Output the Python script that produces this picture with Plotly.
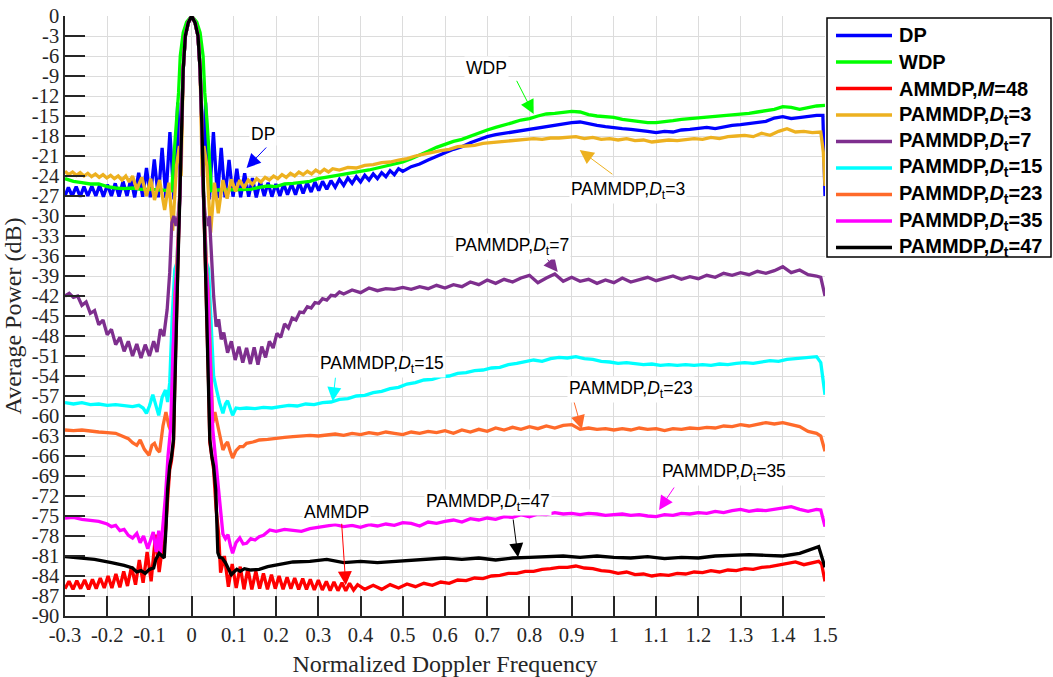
import plotly.graph_objects as go

# ---------------- axis ticks ----------------
X_TICKS = [-0.3, -0.2, -0.1, 0.0, 0.1, 0.2, 0.3, 0.4, 0.5, 0.6, 0.7, 0.8, 0.9, 1.0, 1.1, 1.2, 1.3, 1.4, 1.5]
X_TICK_TEXT = ["-0.3", "-0.2", "-0.1", "0", "0.1", "0.2", "0.3", "0.4", "0.5", "0.6", "0.7", "0.8", "0.9",
               "1", "1.1", "1.2", "1.3", "1.4", "1.5"]
Y_TICKS = [0, -3, -6, -9, -12, -15, -18, -21, -24, -27, -30, -33, -36, -39, -42, -45, -48, -51, -54, -57,
           -60, -63, -66, -69, -72, -75, -78, -81, -84, -87, -90]
Y_TICK_TEXT = ["0", "-3", "-6", "-9", "-12", "-15", "-18", "-21", "-24", "-27", "-30", "-33", "-36", "-39",
               "-42", "-45", "-48", "-51", "-54", "-57", "-60", "-63", "-66", "-69", "-72", "-75", "-78",
               "-81", "-84", "-87", "-90"]

# ---------------- series: (normalized Doppler, average power dB) ----------------
DP = [(-0.300, -27.0), (-0.292, -25.7), (-0.283, -27.0), (-0.2735, -25.6), (-0.264, -27.1), (-0.255, -25.6),
      (-0.246, -27.0), (-0.2365, -25.5), (-0.227, -27.0), (-0.218, -25.4), (-0.209, -27.1), (-0.1995, -25.3),
      (-0.190, -27.0), (-0.181, -25.1), (-0.172, -27.1), (-0.1625, -24.8), (-0.153, -27.0), (-0.144, -24.4),
      (-0.135, -27.2), (-0.1255, -23.5), (-0.116, -27.1), (-0.107, -22.8), (-0.098, -27.2), (-0.0885, -21.5),
      (-0.079, -27.2), (-0.070, -19.8), (-0.061, -27.3), (-0.0515, -17.4), (-0.042, -27.5), (-0.033, -13.0),
      (-0.027, -24.0), (-0.024, -16.0), (-0.020, -8.0), (-0.015, -3.0), (-0.008, -1.0), (0.0, 0.0),
      (0.008, -1.0), (0.015, -3.0), (0.020, -8.0), (0.024, -16.0), (0.027, -24.0), (0.033, -13.0),
      (0.042, -27.5), (0.0515, -17.4), (0.061, -27.3), (0.070, -19.8), (0.079, -27.2), (0.0885, -21.6),
      (0.098, -27.1), (0.107, -22.9), (0.116, -27.2), (0.1255, -23.6), (0.135, -27.1), (0.144, -24.3),
      (0.153, -27.2), (0.1625, -24.8), (0.172, -27.0), (0.181, -25.0), (0.190, -27.1), (0.1995, -25.2),
      (0.209, -27.0), (0.218, -25.2), (0.227, -26.8), (0.2365, -25.2), (0.246, -26.8), (0.255, -25.0),
      (0.264, -26.6), (0.2735, -25.0), (0.283, -26.4), (0.292, -24.9), (0.301, -26.2), (0.310, -24.8),
      (0.320, -26.0), (0.330, -24.7), (0.340, -25.7), (0.350, -24.5), (0.360, -25.4), (0.370, -24.3),
      (0.380, -25.1), (0.390, -24.1), (0.400, -24.9), (0.410, -23.9), (0.420, -24.6), (0.430, -23.7),
      (0.440, -24.4), (0.450, -23.5), (0.460, -24.1), (0.470, -23.2), (0.480, -23.8), (0.490, -22.9),
      (0.500, -23.3), (0.520, -22.6), (0.540, -22.2), (0.560, -21.6), (0.580, -21.0), (0.600, -20.5),
      (0.620, -20.0), (0.640, -19.6), (0.660, -19.0), (0.680, -18.5), (0.700, -18.1), (0.720, -17.8),
      (0.740, -17.6), (0.760, -17.4), (0.780, -17.1), (0.800, -17.0), (0.820, -16.7), (0.840, -16.6),
      (0.860, -16.4), (0.880, -16.2), (0.900, -16.0), (0.920, -15.9), (0.940, -16.2), (0.960, -16.4),
      (0.980, -16.6), (1.000, -16.8), (1.020, -16.9), (1.040, -17.0), (1.060, -17.1), (1.080, -17.3),
      (1.100, -17.5), (1.120, -17.3), (1.140, -17.4), (1.160, -17.1), (1.180, -17.0), (1.200, -16.8),
      (1.220, -16.7), (1.240, -16.9), (1.260, -16.6), (1.280, -16.4), (1.300, -16.3), (1.320, -16.1),
      (1.340, -16.0), (1.360, -15.8), (1.380, -15.3), (1.400, -15.1), (1.420, -15.4), (1.440, -15.2),
      (1.460, -15.0), (1.480, -14.9), (1.495, -14.9), (1.500, -27.0)]

WDP = [(-0.30, -24.4), (-0.28, -24.8), (-0.26, -25.0), (-0.24, -25.2), (-0.22, -25.2), (-0.20, -25.6),
       (-0.18, -25.8), (-0.16, -25.9), (-0.14, -25.8), (-0.12, -26.0), (-0.10, -26.0), (-0.08, -26.1),
       (-0.06, -26.1), (-0.047, -26.2), (-0.042, -21.0), (-0.036, -15.5), (-0.031, -11.5), (-0.027, -6.0),
       (-0.020, -2.5), (-0.012, -0.9), (0.0, 0.0), (0.012, -0.9), (0.020, -2.5), (0.027, -6.0),
       (0.031, -11.5), (0.036, -15.5), (0.042, -21.0), (0.047, -26.2), (0.06, -26.1), (0.08, -26.1),
       (0.10, -26.0), (0.12, -26.0), (0.14, -26.0), (0.16, -25.7), (0.18, -25.5), (0.20, -25.6),
       (0.22, -25.2), (0.24, -25.1), (0.26, -25.0), (0.28, -24.8), (0.30, -24.4), (0.32, -24.2),
       (0.34, -24.0), (0.36, -23.8), (0.38, -23.6), (0.40, -23.4), (0.42, -23.1), (0.44, -22.8),
       (0.46, -22.5), (0.48, -22.2), (0.50, -21.9), (0.52, -21.4), (0.54, -20.9), (0.56, -20.3),
       (0.58, -19.7), (0.60, -19.2), (0.62, -18.8), (0.64, -18.5), (0.66, -18.0), (0.68, -17.5),
       (0.70, -17.1), (0.72, -16.7), (0.74, -16.4), (0.76, -16.0), (0.78, -15.6), (0.80, -15.4),
       (0.82, -15.0), (0.84, -14.7), (0.86, -14.6), (0.88, -14.5), (0.90, -14.3), (0.92, -14.4),
       (0.94, -14.8), (0.96, -15.0), (0.98, -15.1), (1.00, -15.2), (1.02, -15.5), (1.04, -15.7),
       (1.06, -15.9), (1.08, -16.0), (1.10, -16.0), (1.12, -15.9), (1.14, -15.7), (1.16, -15.5),
       (1.18, -15.4), (1.20, -15.3), (1.22, -15.2), (1.24, -15.1), (1.26, -15.0), (1.28, -14.9),
       (1.30, -14.8), (1.32, -14.6), (1.34, -14.4), (1.36, -14.2), (1.38, -14.0), (1.40, -13.6),
       (1.42, -13.7), (1.44, -14.0), (1.46, -13.7), (1.48, -13.5), (1.50, -13.4)]

AMMDP_M48 = [(-0.300, -85.9), (-0.2905, -84.8), (-0.281, -86.0), (-0.272, -84.7), (-0.263, -85.9),
             (-0.2535, -84.6), (-0.244, -86.0), (-0.235, -84.5), (-0.226, -85.9), (-0.2165, -84.3),
             (-0.207, -85.8), (-0.198, -84.0), (-0.189, -85.8), (-0.1795, -83.7), (-0.170, -85.7),
             (-0.161, -83.3), (-0.152, -85.5), (-0.1425, -82.6), (-0.133, -85.3), (-0.124, -81.6),
             (-0.115, -85.0), (-0.1055, -80.4), (-0.096, -84.8), (-0.0855, -77.8), (-0.077, -83.4),
             (-0.070, -80.0), (-0.064, -79.0), (-0.058, -74.0), (-0.052, -68.0), (-0.048, -66.8),
             (-0.043, -64.0), (-0.040, -55.0), (-0.036, -44.0), (-0.032, -36.0), (-0.028, -27.0),
             (-0.024, -16.0), (-0.020, -8.0), (-0.015, -3.0), (-0.008, -1.0), (0.0, 0.0), (0.008, -1.0),
             (0.015, -3.0), (0.020, -8.0), (0.024, -16.0), (0.028, -27.0), (0.032, -36.0), (0.036, -44.0),
             (0.040, -55.0), (0.043, -64.0), (0.048, -66.8), (0.052, -68.0), (0.058, -74.0), (0.064, -77.8),
             (0.0685, -83.5), (0.0775, -81.0), (0.087, -85.6), (0.096, -82.2), (0.1055, -85.8),
             (0.115, -82.6), (0.124, -86.0), (0.133, -82.9), (0.1425, -86.0), (0.152, -83.3), (0.161, -85.9),
             (0.170, -83.6), (0.1795, -86.0), (0.189, -83.8), (0.198, -85.9), (0.207, -84.0),
             (0.2165, -86.0), (0.226, -84.2), (0.235, -85.9), (0.244, -84.3), (0.2535, -86.0),
             (0.263, -84.4), (0.272, -86.0), (0.281, -84.5), (0.2905, -86.1), (0.300, -84.6),
             (0.3095, -86.1), (0.319, -84.8), (0.328, -86.2), (0.337, -84.9), (0.3465, -86.2),
             (0.356, -85.0), (0.365, -86.2), (0.374, -85.1), (0.3835, -86.1), (0.393, -85.3), (0.41, -86.0),
             (0.43, -85.4), (0.45, -86.0), (0.47, -85.3), (0.49, -85.8), (0.51, -85.2), (0.53, -85.6),
             (0.55, -85.1), (0.57, -85.4), (0.59, -84.9), (0.61, -85.1), (0.63, -84.6), (0.65, -84.7),
             (0.67, -84.3), (0.69, -84.4), (0.71, -84.0), (0.73, -83.9), (0.75, -83.6), (0.77, -83.6),
             (0.79, -83.3), (0.81, -83.3), (0.83, -83.0), (0.85, -82.9), (0.87, -82.7), (0.89, -82.7),
             (0.91, -82.5), (0.93, -82.8), (0.95, -82.9), (0.97, -83.2), (0.99, -83.3), (1.01, -83.6),
             (1.03, -83.4), (1.05, -83.8), (1.07, -83.7), (1.09, -84.0), (1.11, -83.8), (1.13, -83.9),
             (1.15, -83.6), (1.17, -83.7), (1.19, -83.4), (1.21, -83.5), (1.23, -83.2), (1.25, -83.4),
             (1.27, -83.1), (1.29, -83.2), (1.31, -82.9), (1.33, -83.0), (1.35, -82.7), (1.37, -82.6),
             (1.39, -82.4), (1.41, -82.2), (1.43, -81.9), (1.45, -82.3), (1.47, -82.0), (1.485, -81.8),
             (1.492, -82.2), (1.50, -84.8)]

PAMMDP_DT3 = [(-0.300, -23.3), (-0.291, -23.8), (-0.282, -23.4), (-0.273, -23.9), (-0.264, -23.5),
              (-0.255, -24.0), (-0.246, -23.6), (-0.237, -24.1), (-0.228, -23.7), (-0.219, -24.2),
              (-0.210, -23.8), (-0.201, -24.3), (-0.192, -23.9), (-0.183, -24.4), (-0.174, -24.0),
              (-0.165, -24.6), (-0.156, -24.0), (-0.148, -24.9), (-0.140, -24.0), (-0.130, -26.0),
              (-0.118, -24.2), (-0.107, -27.0), (-0.097, -24.4), (-0.088, -27.6), (-0.076, -24.6),
              (-0.064, -29.1), (-0.054, -25.0), (-0.045, -32.2), (-0.036, -22.5), (-0.029, -19.5),
              (-0.025, -24.0), (-0.020, -8.0), (-0.015, -3.0), (-0.008, -1.0), (0.0, 0.0), (0.008, -1.0),
              (0.015, -3.0), (0.020, -8.0), (0.025, -24.0), (0.029, -19.5), (0.036, -22.5), (0.045, -32.5),
              (0.054, -25.0), (0.063, -29.6), (0.074, -24.6), (0.084, -27.4), (0.094, -24.5), (0.104, -26.3),
              (0.114, -24.6), (0.124, -25.8), (0.134, -24.6), (0.144, -25.3), (0.154, -24.4), (0.164, -24.9),
              (0.174, -24.2), (0.184, -24.6), (0.194, -24.0), (0.204, -24.4), (0.214, -23.8), (0.224, -24.2),
              (0.234, -23.6), (0.244, -24.0), (0.254, -23.4), (0.264, -23.8), (0.274, -23.3), (0.284, -23.7),
              (0.294, -23.1), (0.304, -23.5), (0.314, -23.0), (0.324, -23.4), (0.334, -22.9), (0.35, -23.1),
              (0.37, -22.7), (0.39, -22.8), (0.41, -22.4), (0.43, -22.3), (0.45, -22.0), (0.47, -21.9),
              (0.49, -21.6), (0.51, -21.4), (0.53, -21.0), (0.55, -20.7), (0.57, -20.5), (0.59, -20.2),
              (0.61, -20.0), (0.63, -19.6), (0.65, -19.5), (0.67, -19.4), (0.69, -19.1), (0.71, -19.0),
              (0.73, -18.9), (0.75, -18.7), (0.77, -18.7), (0.79, -18.5), (0.81, -18.4), (0.83, -18.5),
              (0.85, -18.3), (0.87, -18.3), (0.89, -18.2), (0.91, -18.1), (0.93, -18.4), (0.95, -18.2),
              (0.97, -18.5), (0.99, -18.4), (1.01, -18.6), (1.03, -18.4), (1.05, -18.7), (1.07, -18.6),
              (1.09, -18.9), (1.11, -18.8), (1.13, -18.6), (1.15, -18.7), (1.17, -18.5), (1.19, -18.4),
              (1.21, -18.5), (1.23, -18.2), (1.25, -18.4), (1.27, -18.1), (1.29, -18.0), (1.31, -17.9),
              (1.33, -18.1), (1.35, -17.6), (1.37, -17.9), (1.39, -17.3), (1.41, -16.9), (1.43, -17.4),
              (1.45, -17.3), (1.47, -17.5), (1.49, -17.4), (1.496, -20.4), (1.50, -25.5)]

PAMMDP_DT7 = [(-0.30, -42.0), (-0.29, -41.6), (-0.28, -42.2), (-0.27, -42.0), (-0.26, -43.4), (-0.25, -42.9),
              (-0.24, -44.6), (-0.23, -44.2), (-0.22, -46.3), (-0.21, -45.6), (-0.20, -47.8), (-0.19, -47.0),
              (-0.18, -49.3), (-0.17, -48.2), (-0.16, -50.3), (-0.15, -48.8), (-0.14, -51.0), (-0.13, -49.2),
              (-0.12, -51.3), (-0.11, -49.3), (-0.10, -51.0), (-0.09, -48.8), (-0.082, -50.4), (-0.074, -47.0),
              (-0.066, -48.0), (-0.058, -44.0), (-0.052, -38.5), (-0.047, -31.0), (-0.042, -30.0),
              (-0.037, -31.5), (-0.032, -30.0), (-0.028, -27.0), (-0.024, -16.0), (-0.020, -8.0),
              (-0.015, -3.0), (-0.008, -1.0), (0.0, 0.0), (0.008, -1.0), (0.015, -3.0), (0.020, -8.0),
              (0.024, -16.0), (0.028, -27.0), (0.032, -30.0), (0.037, -31.5), (0.042, -30.0), (0.047, -37.0),
              (0.052, -42.0), (0.058, -46.6), (0.064, -45.5), (0.070, -48.5), (0.076, -47.5), (0.085, -50.5),
              (0.094, -48.8), (0.103, -51.6), (0.112, -49.6), (0.121, -52.0), (0.130, -49.8), (0.139, -52.2),
              (0.148, -49.7), (0.157, -52.3), (0.166, -49.6), (0.175, -51.2), (0.184, -48.8), (0.193, -49.8),
              (0.202, -47.6), (0.211, -48.2), (0.220, -46.2), (0.229, -46.8), (0.238, -45.3), (0.247, -45.6),
              (0.256, -44.4), (0.265, -44.5), (0.274, -43.6), (0.283, -43.8), (0.292, -43.0), (0.301, -43.1),
              (0.31, -42.4), (0.32, -42.6), (0.33, -41.9), (0.34, -42.0), (0.35, -41.4), (0.36, -41.7),
              (0.38, -41.1), (0.40, -41.5), (0.42, -40.8), (0.44, -41.2), (0.46, -40.9), (0.48, -41.0),
              (0.50, -40.7), (0.52, -41.0), (0.54, -40.6), (0.56, -40.9), (0.58, -40.4), (0.60, -40.8),
              (0.62, -40.3), (0.64, -40.6), (0.66, -39.9), (0.68, -40.3), (0.70, -39.6), (0.72, -40.1),
              (0.74, -39.5), (0.76, -39.9), (0.78, -39.3), (0.80, -38.9), (0.82, -40.0), (0.84, -39.3),
              (0.86, -38.7), (0.88, -39.8), (0.90, -39.2), (0.92, -39.8), (0.94, -39.5), (0.96, -40.1),
              (0.98, -39.6), (1.00, -40.0), (1.02, -39.3), (1.04, -39.9), (1.06, -39.6), (1.08, -39.2),
              (1.10, -39.7), (1.12, -39.4), (1.14, -39.0), (1.16, -39.5), (1.18, -39.1), (1.20, -39.4),
              (1.22, -38.9), (1.24, -39.2), (1.26, -38.6), (1.28, -38.9), (1.30, -38.5), (1.32, -38.8),
              (1.34, -38.3), (1.36, -38.6), (1.38, -38.2), (1.40, -37.6), (1.42, -38.5), (1.44, -38.1),
              (1.46, -38.8), (1.48, -39.0), (1.49, -39.2), (1.50, -42.0)]

PAMMDP_DT15 = [(-0.30, -58.0), (-0.28, -58.2), (-0.26, -58.0), (-0.24, -58.3), (-0.22, -58.2), (-0.20, -58.4),
               (-0.18, -58.3), (-0.16, -58.5), (-0.14, -58.6), (-0.125, -58.4), (-0.115, -58.8),
               (-0.107, -59.6), (-0.100, -58.5), (-0.092, -56.8), (-0.085, -58.5), (-0.078, -59.9),
               (-0.070, -57.2), (-0.062, -56.1), (-0.057, -57.9), (-0.052, -55.0), (-0.046, -45.0),
               (-0.040, -38.0), (-0.035, -37.0), (-0.028, -27.0), (-0.024, -16.0), (-0.020, -8.0),
               (-0.015, -3.0), (-0.008, -1.0), (0.0, 0.0), (0.008, -1.0), (0.015, -3.0), (0.020, -8.0),
               (0.024, -16.0), (0.028, -27.0), (0.035, -37.0), (0.040, -38.0), (0.046, -46.0), (0.052, -54.0),
               (0.059, -56.1), (0.066, -58.0), (0.074, -59.6), (0.080, -58.2), (0.085, -57.7), (0.091, -58.8),
               (0.097, -59.9), (0.105, -58.8), (0.114, -58.9), (0.13, -58.8), (0.15, -58.9), (0.17, -58.7),
               (0.19, -58.8), (0.21, -58.6), (0.23, -58.4), (0.25, -58.5), (0.27, -58.2), (0.29, -58.3),
               (0.31, -58.0), (0.33, -57.9), (0.35, -57.5), (0.37, -57.4), (0.39, -57.0), (0.41, -56.9),
               (0.43, -56.5), (0.45, -56.3), (0.47, -55.9), (0.49, -55.7), (0.51, -55.2), (0.53, -55.0),
               (0.55, -54.6), (0.57, -54.5), (0.59, -54.1), (0.61, -54.0), (0.63, -53.6), (0.65, -53.5),
               (0.67, -53.2), (0.69, -53.1), (0.71, -52.8), (0.73, -52.7), (0.75, -52.3), (0.77, -52.1),
               (0.79, -51.8), (0.81, -51.6), (0.83, -51.8), (0.85, -51.4), (0.87, -51.2), (0.89, -51.3),
               (0.91, -51.1), (0.93, -51.4), (0.95, -51.5), (0.97, -51.8), (0.99, -51.9), (1.01, -52.1),
               (1.03, -52.0), (1.05, -52.2), (1.07, -52.3), (1.09, -52.2), (1.11, -52.4), (1.13, -52.3),
               (1.15, -52.4), (1.17, -52.3), (1.19, -52.4), (1.21, -52.3), (1.23, -52.4), (1.25, -52.2),
               (1.27, -52.3), (1.29, -52.1), (1.31, -52.0), (1.33, -52.1), (1.35, -51.9), (1.37, -51.7),
               (1.39, -51.8), (1.41, -51.5), (1.43, -51.4), (1.45, -51.3), (1.47, -51.2), (1.48, -51.1),
               (1.49, -52.0), (1.50, -56.8)]

PAMMDP_DT23 = [(-0.30, -62.1), (-0.28, -62.2), (-0.26, -62.1), (-0.24, -62.3), (-0.22, -62.4), (-0.20, -62.5),
               (-0.18, -62.6), (-0.165, -63.0), (-0.15, -63.4), (-0.14, -64.0), (-0.13, -64.4),
               (-0.122, -63.6), (-0.112, -65.0), (-0.101, -65.9), (-0.094, -64.4), (-0.088, -64.1),
               (-0.082, -65.0), (-0.076, -65.4), (-0.068, -61.5), (-0.061, -59.4), (-0.054, -61.5),
               (-0.049, -62.3), (-0.045, -55.0), (-0.040, -42.0), (-0.036, -38.5), (-0.028, -27.0),
               (-0.024, -16.0), (-0.020, -8.0), (-0.015, -3.0), (-0.008, -1.0), (0.0, 0.0), (0.008, -1.0),
               (0.015, -3.0), (0.020, -8.0), (0.024, -16.0), (0.028, -27.0), (0.036, -38.5), (0.040, -42.0),
               (0.045, -52.0), (0.050, -61.0), (0.055, -59.4), (0.062, -61.5), (0.068, -63.5), (0.074, -65.1),
               (0.080, -64.3), (0.085, -63.9), (0.091, -65.2), (0.097, -66.3), (0.105, -65.2), (0.114, -64.6),
               (0.122, -64.6), (0.13, -64.1), (0.145, -63.9), (0.16, -63.6), (0.18, -63.5), (0.20, -63.3),
               (0.22, -63.2), (0.24, -63.1), (0.26, -63.0), (0.28, -62.9), (0.30, -63.0), (0.32, -62.8),
               (0.34, -62.7), (0.36, -62.9), (0.38, -62.6), (0.40, -62.8), (0.42, -62.5), (0.44, -62.7),
               (0.46, -62.4), (0.48, -62.6), (0.50, -62.8), (0.52, -62.4), (0.54, -62.6), (0.56, -62.3),
               (0.58, -62.5), (0.60, -62.2), (0.62, -62.6), (0.64, -62.1), (0.66, -62.4), (0.68, -62.0),
               (0.70, -62.3), (0.72, -61.8), (0.74, -62.1), (0.76, -61.7), (0.78, -62.0), (0.80, -61.6),
               (0.82, -61.9), (0.84, -61.5), (0.86, -61.8), (0.88, -61.4), (0.90, -61.3), (0.92, -62.0),
               (0.94, -61.8), (0.96, -62.0), (0.98, -61.9), (1.00, -62.1), (1.02, -61.9), (1.04, -62.1),
               (1.06, -61.8), (1.08, -62.0), (1.10, -61.9), (1.12, -62.2), (1.14, -61.9), (1.16, -62.0),
               (1.18, -61.8), (1.20, -61.9), (1.22, -61.7), (1.24, -61.8), (1.26, -61.5), (1.28, -61.6),
               (1.30, -61.3), (1.32, -61.5), (1.34, -61.2), (1.36, -61.0), (1.38, -61.2), (1.40, -61.0),
               (1.42, -61.3), (1.44, -61.6), (1.46, -62.3), (1.48, -62.6), (1.49, -63.0), (1.50, -65.3)]

PAMMDP_DT35 = [(-0.30, -75.3), (-0.28, -75.2), (-0.26, -75.5), (-0.24, -75.6), (-0.22, -75.8), (-0.20, -76.2),
               (-0.19, -76.6), (-0.18, -76.4), (-0.17, -77.2), (-0.16, -77.0), (-0.15, -77.9), (-0.14, -78.3),
               (-0.13, -77.6), (-0.122, -79.0), (-0.114, -78.0), (-0.104, -79.9), (-0.097, -78.6),
               (-0.091, -77.4), (-0.084, -80.4), (-0.078, -77.2), (-0.074, -80.6), (-0.069, -77.5),
               (-0.062, -72.0), (-0.056, -66.0), (-0.050, -62.0), (-0.044, -50.0), (-0.038, -41.0),
               (-0.034, -38.0), (-0.028, -27.0), (-0.024, -16.0), (-0.020, -8.0), (-0.015, -3.0),
               (-0.008, -1.0), (0.0, 0.0), (0.008, -1.0), (0.015, -3.0), (0.020, -8.0), (0.024, -16.0),
               (0.028, -27.0), (0.034, -38.0), (0.038, -41.0), (0.044, -52.0), (0.050, -62.0), (0.056, -66.0),
               (0.062, -70.0), (0.068, -75.0), (0.074, -77.7), (0.080, -78.4), (0.086, -77.8), (0.092, -79.5),
               (0.097, -80.6), (0.105, -79.0), (0.114, -78.3), (0.122, -79.2), (0.13, -79.1), (0.14, -78.4),
               (0.15, -78.6), (0.16, -78.1), (0.17, -77.9), (0.185, -77.1), (0.20, -77.3), (0.22, -77.0),
               (0.24, -77.1), (0.26, -77.3), (0.28, -76.9), (0.30, -76.7), (0.32, -76.4), (0.34, -76.3),
               (0.36, -76.6), (0.38, -76.4), (0.40, -76.7), (0.42, -76.3), (0.44, -76.5), (0.46, -76.2),
               (0.48, -76.4), (0.50, -76.0), (0.52, -76.1), (0.54, -76.5), (0.56, -75.9), (0.58, -76.1),
               (0.60, -75.8), (0.62, -75.6), (0.64, -75.9), (0.66, -75.4), (0.68, -75.6), (0.70, -75.3),
               (0.72, -75.5), (0.74, -75.1), (0.76, -75.2), (0.78, -74.8), (0.80, -75.1), (0.82, -74.7),
               (0.84, -74.8), (0.86, -74.5), (0.88, -74.7), (0.90, -74.6), (0.92, -74.8), (0.94, -74.6),
               (0.96, -74.7), (0.98, -74.9), (1.00, -74.8), (1.02, -74.7), (1.04, -74.9), (1.06, -74.8),
               (1.08, -75.0), (1.10, -75.1), (1.12, -74.8), (1.14, -74.9), (1.16, -74.6), (1.18, -74.7),
               (1.20, -74.5), (1.22, -74.6), (1.24, -74.3), (1.26, -74.5), (1.28, -74.2), (1.30, -74.0),
               (1.32, -74.3), (1.34, -74.1), (1.36, -74.2), (1.38, -74.0), (1.40, -73.9), (1.42, -73.6),
               (1.44, -74.0), (1.46, -74.3), (1.48, -74.0), (1.49, -74.1), (1.50, -76.6)]

PAMMDP_DT47 = [(-0.30, -81.1), (-0.27, -81.3), (-0.23, -81.5), (-0.19, -82.0), (-0.16, -82.4), (-0.14, -82.8),
               (-0.13, -83.4), (-0.12, -83.2), (-0.11, -83.6), (-0.10, -83.0), (-0.09, -82.8), (-0.085, -81.5),
               (-0.077, -80.6), (-0.070, -81.0), (-0.065, -81.3), (-0.061, -77.0), (-0.057, -71.0),
               (-0.052, -67.5), (-0.048, -66.2), (-0.043, -63.5), (-0.040, -55.0), (-0.036, -44.0),
               (-0.032, -36.0), (-0.028, -27.0), (-0.024, -16.0), (-0.020, -8.0), (-0.015, -3.0),
               (-0.008, -1.0), (0.0, 0.0), (0.008, -1.0), (0.015, -3.0), (0.020, -8.0), (0.024, -16.0),
               (0.028, -27.0), (0.032, -36.0), (0.036, -44.0), (0.040, -55.0), (0.043, -63.5), (0.048, -66.2),
               (0.052, -67.5), (0.057, -71.0), (0.062, -80.5), (0.066, -81.2), (0.072, -81.3), (0.080, -82.0),
               (0.087, -83.0), (0.094, -83.8), (0.100, -83.4), (0.107, -83.0), (0.115, -83.3), (0.125, -82.9),
               (0.14, -83.1), (0.16, -83.0), (0.18, -82.6), (0.20, -82.4), (0.24, -81.9), (0.28, -81.8),
               (0.32, -81.5), (0.36, -82.0), (0.40, -81.8), (0.44, -82.0), (0.48, -81.8), (0.52, -81.6),
               (0.56, -81.4), (0.60, -81.3), (0.64, -81.5), (0.68, -81.3), (0.72, -81.6), (0.76, -81.3),
               (0.80, -81.2), (0.84, -81.1), (0.88, -81.0), (0.92, -81.2), (0.96, -81.0), (1.00, -81.2),
               (1.04, -81.3), (1.08, -81.1), (1.12, -81.4), (1.16, -81.2), (1.20, -81.3), (1.24, -81.0),
               (1.28, -80.9), (1.32, -80.8), (1.36, -80.9), (1.40, -81.0), (1.44, -80.6), (1.47, -80.0),
               (1.485, -79.6), (1.50, -82.7)]

SERIES = [
    ("DP", DP, "#0000FF"),
    ("WDP", WDP, "#00FF00"),
    ("AMMDP,<i>M</i>=48", AMMDP_M48, "#FF0000"),
    ("PAMMDP,<i>D</i><sub>t</sub>=3", PAMMDP_DT3, "#EDB120"),
    ("PAMMDP,<i>D</i><sub>t</sub>=7", PAMMDP_DT7, "#7E2F8E"),
    ("PAMMDP,<i>D</i><sub>t</sub>=15", PAMMDP_DT15, "#00FFFF"),
    ("PAMMDP,<i>D</i><sub>t</sub>=23", PAMMDP_DT23, "#FF6A2A"),
    ("PAMMDP,<i>D</i><sub>t</sub>=35", PAMMDP_DT35, "#FF00FF"),
    ("PAMMDP,<i>D</i><sub>t</sub>=47", PAMMDP_DT47, "#000000"),
]

# callouts: label, text position, arrow tail, arrow head (data units), colour
CALLOUTS = [
    ("DP", (0.168, -17.7), (0.180, -19.5), (0.130, -22.8), "#0000FF"),
    ("WDP", (0.699, -7.8), (0.768, -9.5), (0.810, -14.7), "#00FF00"),
    ("PAMMDP,<i>D</i><sub>t</sub>=3", (1.033, -26.1), (1.000, -23.9), (0.919, -20.1), "#EDB120"),
    ("PAMMDP,<i>D</i><sub>t</sub>=7", (0.758, -34.5), (0.839, -36.2), (0.867, -38.4), "#7E2F8E"),
    ("PAMMDP,<i>D</i><sub>t</sub>=15", (0.450, -52.2), (0.341, -54.0), (0.334, -57.8), "#00FFFF"),
    ("PAMMDP,<i>D</i><sub>t</sub>=23", (1.040, -56.0), (0.903, -57.3), (0.924, -62.0), "#FF6A2A"),
    ("PAMMDP,<i>D</i><sub>t</sub>=35", (1.261, -68.4), (1.145, -70.5), (1.107, -74.1), "#FF00FF"),
    ("AMMDP", (0.344, -74.4), (0.355, -75.9), (0.365, -85.4), "#FF0000"),
    ("PAMMDP,<i>D</i><sub>t</sub>=47", (0.701, -73.0), (0.761, -75.3), (0.773, -81.2), "#000000"),
]

# ---------------- figure ----------------
W, H = 1053, 677
PLOT_L, PLOT_R, PLOT_T, PLOT_B = 65, 825, 16, 616


def paper_x(px):
    return (px - PLOT_L) / (PLOT_R - PLOT_L)


def paper_y(py):
    return (PLOT_B - py) / (PLOT_B - PLOT_T)


fig = go.Figure()
for name, pts, color in SERIES:
    xs = [p[0] for p in pts]
    ys = [p[1] for p in pts]
    fig.add_trace(go.Scatter(x=xs, y=ys, mode="lines", name=name, showlegend=False,
                             line=dict(color=color, width=3.3), hoverinfo="skip"))

annotations = []
for text, (tx, ty), (ax, ay), (hx, hy), color in CALLOUTS:
    # arrow from the tail point to the marked curve
    annotations.append(dict(x=hx, y=hy, ax=ax, ay=ay, xref="x", yref="y", axref="x", ayref="y",
                            text="", showarrow=True, arrowhead=2, arrowsize=2.8, arrowwidth=1,
                            arrowcolor=color, standoff=0, startstandoff=0))
    annotations.append(dict(x=tx, y=ty, xref="x", yref="y", text=text, showarrow=False,
                            xanchor="center", yanchor="middle", bgcolor="white", borderpad=1,
                            font=dict(family="Liberation Sans, Arial, sans-serif", size=17.5,
                                      color="#000000")))

# legend panel on the right
shapes = [dict(type="rect", xref="paper", yref="paper", x0=paper_x(827), x1=paper_x(1051),
               y0=paper_y(257), y1=paper_y(18), line=dict(color="#000000", width=1.5),
               fillcolor="white", layer="above")]
LEG_TOP, LEG_STEP = 35.5, 26.5
for i, (name, _, color) in enumerate(SERIES):
    yy = paper_y(LEG_TOP + i * LEG_STEP)
    shapes.append(dict(type="line", xref="paper", yref="paper", x0=paper_x(836), x1=paper_x(892),
                       y0=yy, y1=yy, line=dict(color=color, width=3.3), layer="above"))
    annotations.append(dict(x=paper_x(897), y=yy, xref="paper", yref="paper", text="<b>" + name + "</b>",
                            showarrow=False, xanchor="left", yanchor="middle",
                            font=dict(family="Liberation Sans, Arial, sans-serif", size=20,
                                      color="#000000")))

AXIS_FONT = dict(family="Liberation Serif, Times New Roman, serif", size=20.5, color="#262626")
TITLE_FONT = dict(family="Liberation Serif, Times New Roman, serif", size=24, color="#262626")

fig.update_layout(
    width=W, height=H,
    margin=dict(l=PLOT_L, r=W - PLOT_R, t=PLOT_T, b=H - PLOT_B, autoexpand=False),
    paper_bgcolor="white", plot_bgcolor="white",
    showlegend=False,
    annotations=annotations,
    shapes=shapes,
    xaxis=dict(range=[-0.3, 1.5], tickmode="array", tickvals=X_TICKS, ticktext=X_TICK_TEXT,
               showgrid=True, gridcolor="#DCDCDC", gridwidth=1, zeroline=False,
               showline=True, linecolor="#262626", linewidth=1.5, mirror=False,
               ticks="inside", ticklen=20, tickwidth=1.5, tickcolor="#262626",
               tickfont=AXIS_FONT, title=dict(text="Normalized Doppler Frequency", font=TITLE_FONT,
                                              standoff=10)),
    yaxis=dict(range=[-90, 0], tickmode="array", tickvals=Y_TICKS, ticktext=Y_TICK_TEXT,
               showgrid=True, gridcolor="#DCDCDC", gridwidth=1, zeroline=False,
               showline=True, linecolor="#262626", linewidth=1.5, mirror=False,
               ticks="inside", ticklen=20, tickwidth=1.5, tickcolor="#262626",
               tickfont=AXIS_FONT, title=dict(text="Average Power (dB)", font=TITLE_FONT, standoff=8)),
)

fig.write_html("out.html")
